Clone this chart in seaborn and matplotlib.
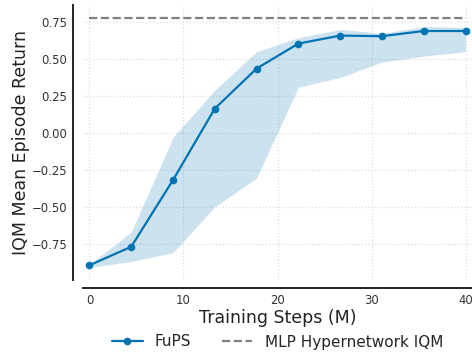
import numpy as np
import pandas as pd
import matplotlib
matplotlib.use("Agg")
import matplotlib.pyplot as plt
import seaborn as sns

steps = [0.0, 4.44, 8.89, 13.33, 17.78, 22.22, 26.67, 31.11, 35.56, 40.0]
iqm = [-0.895, -0.77, -0.318, 0.165, 0.436, 0.605, 0.659, 0.655, 0.69, 0.69]
upper = [-0.89, -0.67, -0.03, 0.29, 0.55, 0.645, 0.70, 0.675, 0.72, 0.715]
lower = [-0.91, -0.87, -0.81, -0.50, -0.305, 0.31, 0.375, 0.48, 0.52, 0.55]
baseline = 0.78
yticks = [-0.75, -0.5, -0.25, 0.0, 0.25, 0.5, 0.75]
xticks = [0, 10, 20, 30, 40]

sns.set_theme(style="white")
plt.rcParams['font.family'] = ['DejaVu Sans']

df = pd.DataFrame({"step": steps, "iqm": iqm})
blue = sns.color_palette("colorblind")[0]

fig = plt.figure(figsize=(4.72, 3.56), dpi=100)
ax = fig.add_axes([83/472, 1-280/356, 1-83/472, (280-5)/356])

ax.fill_between(steps, lower, upper, color=blue, alpha=0.2, linewidth=0)
sns.lineplot(data=df, x="step", y="iqm", ax=ax, color=blue, marker="o",
             markersize=5.5, markeredgewidth=0, linewidth=1.6, label="FuPS")
ax.plot([steps[0], steps[-1]], [baseline, baseline], color="#808080",
        linestyle="--", linewidth=1.6, label="MLP Hypernetwork IQM")

ax.set_xlim(-0.69, 40.69)
ax.set_ylim(-0.995, 0.866)
ax.set_xticks(xticks)
ax.set_yticks(yticks)
ax.set_yticklabels([f"{v:.2f}".replace("-", "\u2212") for v in yticks])
ax.grid(True, linestyle=":", color="#dddddd", linewidth=0.9)
ax.tick_params(axis="both", length=0, labelsize=8.4, labelcolor="#333333", pad=4)

for s in ["top", "right"]:
    ax.spines[s].set_visible(False)
ax.spines["left"].set_position(("outward", 7.2))
ax.spines["bottom"].set_position(("outward", 5.8))
for s in ["left", "bottom"]:
    ax.spines[s].set_color("#222222")
    ax.spines[s].set_linewidth(1.4)

ax.set_xlabel("Training Steps (M)", fontsize=12.5, color="#222222", labelpad=1.5)
ax.set_ylabel("IQM Mean Episode Return", fontsize=12.5, color="#222222", labelpad=1.5)

ax.legend(loc="center", bbox_to_anchor=(0.5, -(342-280)/275), ncol=2,
          frameon=False, fontsize=11)

fig.savefig("out.png", dpi=100)
